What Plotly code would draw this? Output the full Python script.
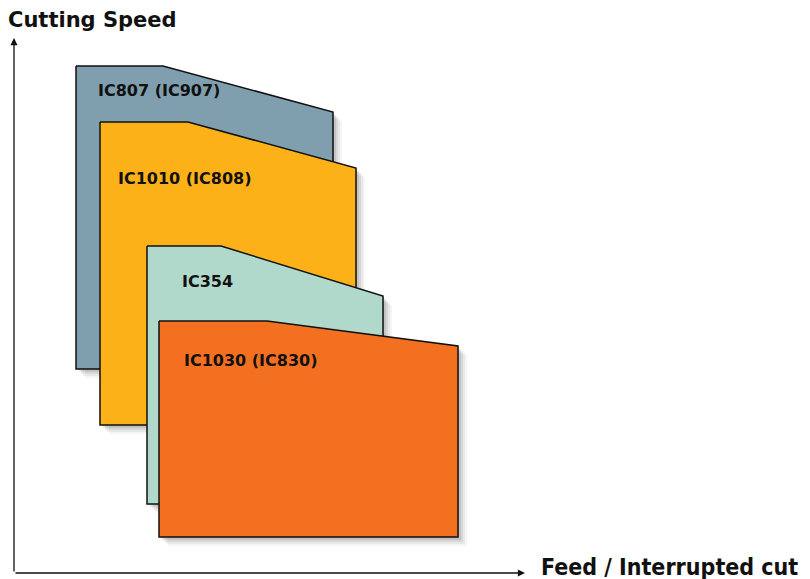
import plotly.graph_objects as go

# grade zones, corners as (feed, speed) in chart units
names = ["IC807 (IC907)", "IC1010 (IC808)", "IC354", "IC1030 (IC830)"]
colors = ["#7f9fae", "#fbb117", "#b0d8cb", "#f37021"]
left = [76, 100, 147, 159]
right = [333, 356, 383, 458]
knee = [163, 188, 221, 267]
top = [513, 457, 333, 258]
top_right = [467, 411, 283, 233]
bottom = [210, 154, 75, 42]
label_x = [96, 116, 180, 182]
label_y = [489, 401, 298, 219]

fig = go.Figure()

for i in range(len(names)):
    xs = [left[i], knee[i], right[i], right[i], left[i], left[i]]
    ys = [top[i], top[i], top_right[i], bottom[i], bottom[i], top[i]]
    # soft drop shadow
    for off, a in [(9, 0.04), (7, 0.05), (5, 0.07), (3, 0.09), (1, 0.1)]:
        fig.add_trace(go.Scatter(x=[v + off for v in xs], y=[v - off for v in ys],
                                 fill="toself", fillcolor="rgba(0,0,0,%s)" % a,
                                 mode="lines", line=dict(width=0), hoverinfo="skip"))
    fig.add_trace(go.Scatter(x=xs, y=ys, fill="toself", fillcolor=colors[i],
                             mode="lines", line=dict(color="#111111", width=1.5),
                             name=names[i], hoverinfo="name"))
    fig.add_annotation(x=label_x[i], y=label_y[i], text="<b>%s</b>" % names[i], showarrow=False,
                       xanchor="left", yanchor="middle",
                       font=dict(family="DejaVu Sans", size=16, color="#111111"))

# axes arrows
fig.add_annotation(x=14, y=541, ax=14, ay=6, xref="x", yref="y", axref="x", ayref="y",
                   text="", showarrow=True, arrowhead=2, arrowsize=1.1, arrowwidth=1.3,
                   arrowcolor="#111111")
fig.add_annotation(x=525, y=6, ax=14, ay=6, xref="x", yref="y", axref="x", ayref="y",
                   text="", showarrow=True, arrowhead=2, arrowsize=1.1, arrowwidth=1.3,
                   arrowcolor="#111111")

fig.add_annotation(x=6, y=559, text="<b>Cutting Speed</b>", showarrow=False,
                   xanchor="left", yanchor="middle",
                   font=dict(family="DejaVu Sans", size=21, color="#111111"))
fig.add_annotation(x=539, y=12, text="<b>Feed / Interrupted cut</b>", showarrow=False,
                   xanchor="left", yanchor="middle",
                   font=dict(family="Liberation Sans Narrow, DejaVu Sans Condensed", size=23,
                             color="#111111"))

fig.update_xaxes(range=[0, 810], visible=False, fixedrange=True)
fig.update_yaxes(range=[0, 579], visible=False, fixedrange=True)
fig.update_layout(width=810, height=579, margin=dict(l=0, r=0, t=0, b=0),
                  showlegend=False, plot_bgcolor="white", paper_bgcolor="white")

fig.write_html("out.html", config={"displayModeBar": False},
               post_script="document.body.style.margin='0';")
